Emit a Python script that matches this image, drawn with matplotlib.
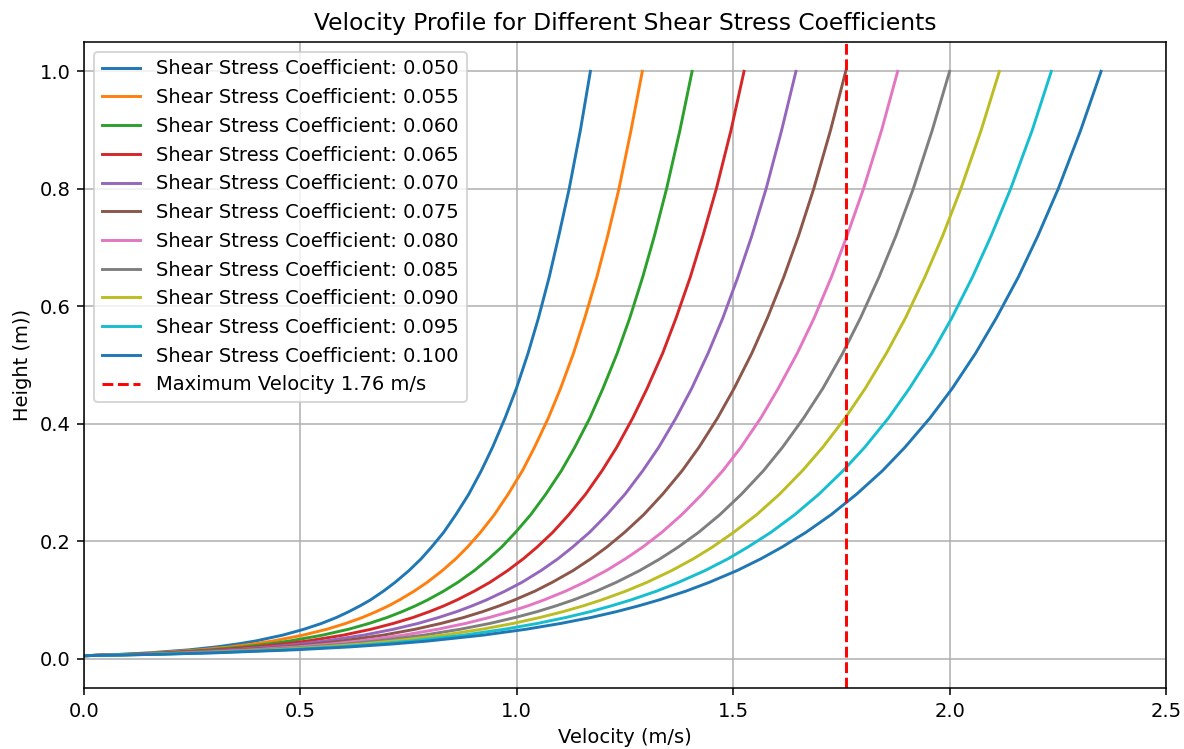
import matplotlib
matplotlib.use("Agg")
import matplotlib.pyplot as plt

# heights (m) shared by all profiles
heights = [0.005, 0.0075, 0.01, 0.015, 0.02, 0.025, 0.03, 0.04, 0.05, 0.06, 0.07,
           0.08, 0.09, 0.1, 0.115, 0.13, 0.15, 0.17, 0.19, 0.215, 0.245, 0.28,
           0.32, 0.36, 0.41, 0.46, 0.52, 0.58, 0.65, 0.72, 0.8, 0.9, 1.0]

coefficients = [0.050, 0.055, 0.060, 0.065, 0.070, 0.075, 0.080, 0.085, 0.090, 0.095, 0.100]

# velocity (m/s) at the heights above
vel_050 = [0, 0.090, 0.153, 0.243, 0.306, 0.355, 0.396, 0.459, 0.508, 0.549, 0.583,
           0.612, 0.638, 0.662, 0.692, 0.719, 0.751, 0.779, 0.803, 0.831, 0.859, 0.889,
           0.918, 0.944, 0.973, 0.999, 1.026, 1.050, 1.075, 1.097, 1.121, 1.147, 1.170]
vel_055 = [0, 0.099, 0.169, 0.267, 0.338, 0.392, 0.436, 0.506, 0.561, 0.605, 0.643,
           0.675, 0.704, 0.729, 0.763, 0.793, 0.828, 0.859, 0.886, 0.916, 0.948, 0.980,
           1.013, 1.041, 1.073, 1.101, 1.131, 1.157, 1.185, 1.210, 1.236, 1.264, 1.290]
vel_060 = [0, 0.108, 0.184, 0.291, 0.368, 0.427, 0.475, 0.551, 0.611, 0.659, 0.700,
           0.735, 0.766, 0.794, 0.831, 0.864, 0.902, 0.935, 0.965, 0.997, 1.032, 1.067,
           1.103, 1.134, 1.169, 1.199, 1.232, 1.261, 1.291, 1.318, 1.346, 1.377, 1.405]
vel_065 = [0, 0.117, 0.200, 0.316, 0.399, 0.463, 0.516, 0.599, 0.663, 0.715, 0.760,
           0.798, 0.832, 0.862, 0.902, 0.938, 0.979, 1.015, 1.047, 1.083, 1.120, 1.159,
           1.197, 1.231, 1.268, 1.301, 1.337, 1.368, 1.401, 1.430, 1.461, 1.495, 1.525]
vel_070 = [0, 0.126, 0.215, 0.341, 0.430, 0.500, 0.556, 0.646, 0.715, 0.772, 0.819,
           0.861, 0.897, 0.930, 0.973, 1.012, 1.056, 1.095, 1.129, 1.168, 1.208, 1.250,
           1.291, 1.328, 1.368, 1.404, 1.442, 1.476, 1.511, 1.543, 1.576, 1.612, 1.645]
vel_075 = [0, 0.135, 0.230, 0.365, 0.461, 0.535, 0.595, 0.691, 0.765, 0.825, 0.877,
           0.921, 0.960, 0.995, 1.042, 1.082, 1.130, 1.171, 1.208, 1.249, 1.293, 1.337,
           1.382, 1.421, 1.464, 1.502, 1.543, 1.579, 1.617, 1.651, 1.686, 1.725, 1.760]
vel_080 = [0, 0.144, 0.246, 0.390, 0.492, 0.571, 0.636, 0.738, 0.817, 0.882, 0.936,
           0.984, 1.026, 1.063, 1.113, 1.156, 1.207, 1.251, 1.291, 1.335, 1.381, 1.428,
           1.476, 1.518, 1.564, 1.604, 1.648, 1.687, 1.727, 1.763, 1.801, 1.843, 1.880]
vel_085 = [0, 0.153, 0.262, 0.415, 0.523, 0.608, 0.676, 0.785, 0.869, 0.938, 0.996,
           1.047, 1.091, 1.131, 1.184, 1.230, 1.284, 1.331, 1.373, 1.420, 1.469, 1.519,
           1.570, 1.614, 1.663, 1.707, 1.753, 1.794, 1.837, 1.876, 1.916, 1.960, 2.000]
vel_090 = [0, 0.162, 0.277, 0.439, 0.553, 0.642, 0.715, 0.830, 0.919, 0.992, 1.053,
           1.107, 1.154, 1.196, 1.252, 1.301, 1.358, 1.408, 1.452, 1.501, 1.554, 1.607,
           1.660, 1.707, 1.759, 1.805, 1.854, 1.898, 1.943, 1.984, 2.026, 2.073, 2.115]
vel_095 = [0, 0.171, 0.292, 0.463, 0.585, 0.679, 0.756, 0.877, 0.971, 1.048, 1.113,
           1.170, 1.219, 1.264, 1.323, 1.374, 1.435, 1.488, 1.534, 1.587, 1.642, 1.698,
           1.754, 1.804, 1.859, 1.907, 1.959, 2.005, 2.053, 2.096, 2.141, 2.191, 2.235]
vel_100 = [0, 0.180, 0.307, 0.487, 0.615, 0.714, 0.795, 0.922, 1.021, 1.102, 1.171,
           1.230, 1.282, 1.329, 1.391, 1.445, 1.509, 1.564, 1.613, 1.668, 1.726, 1.785,
           1.845, 1.897, 1.955, 2.006, 2.060, 2.108, 2.159, 2.204, 2.251, 2.303, 2.350]

velocities = [vel_050, vel_055, vel_060, vel_065, vel_070, vel_075,
              vel_080, vel_085, vel_090, vel_095, vel_100]

max_velocity = 1.76

DPI = 140
fig = plt.figure(figsize=(1184 / DPI, 749 / DPI), dpi=DPI)
ax = fig.add_axes([84 / 1184, 61 / 749, 1082 / 1184, 646 / 749])

for c, vel in zip(coefficients, velocities):
    ax.plot(vel, heights, label=f'Shear Stress Coefficient: {c:.3f}')

ax.axvline(x=max_velocity, color='red', linestyle='--',
           label=f'Maximum Velocity {max_velocity:.2f} m/s')

ax.set_xlim(0, 2.5)
ax.set_ylim(-0.05, 1.05)
ax.set_xlabel('Velocity (m/s)')
ax.set_ylabel('Height (m))')
ax.set_title('Velocity Profile for Different Shear Stress Coefficients')
ax.grid(True)
ax.legend(loc='upper left')

fig.savefig('out.png', dpi=DPI)
